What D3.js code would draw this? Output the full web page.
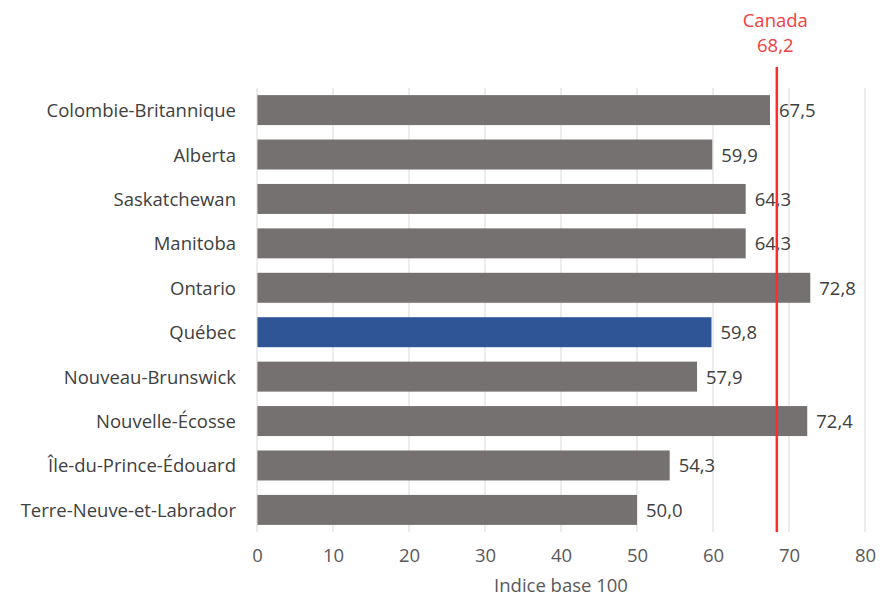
<!DOCTYPE html>
<html>
<head>
<meta charset="utf-8">
<script src="https://cdn.jsdelivr.net/npm/d3@7"></script>
<style>
  body { margin: 0; background: #fff; }
  svg text { font-family: "Open Sans", "Noto Sans", sans-serif; }
</style>
</head>
<body>
<div id="chart"></div>
<script>
const provinces = ["Colombie-Britannique", "Alberta", "Saskatchewan", "Manitoba", "Ontario",
  "Québec", "Nouveau-Brunswick", "Nouvelle-Écosse", "Île-du-Prince-Édouard", "Terre-Neuve-et-Labrador"];
const values = [67.5, 59.9, 64.3, 64.3, 72.8, 59.8, 57.9, 72.4, 54.3, 50.0];
const xTicks = [0, 10, 20, 30, 40, 50, 60, 70, 80];
const canadaLabel = "Canada";
const canadaValue = 68.2;
const highlight = "Québec";
const axisTitle = "Indice base 100";

const width = 890, height = 602;
const margin = {top: 88, right: 25, bottom: 70, left: 257};
const fs = 18.5;
const fmt = v => d3.format(".1f")(v).replace(".", ",");

const svg = d3.select("#chart").append("svg")
  .attr("width", width).attr("height", height);

const x = d3.scaleLinear().domain([0, 80]).range([margin.left, width - margin.right]);
const y = d3.scaleBand().domain(provinces)
  .range([margin.top, height - margin.bottom]).paddingInner(0.325).paddingOuter(0.16);

// grid lines
svg.append("g").selectAll("line")
  .data(xTicks.filter(d => d > 0))
  .enter().append("line")
  .attr("x1", d => x(d)).attr("x2", d => x(d))
  .attr("y1", margin.top).attr("y2", height - margin.bottom)
  .attr("stroke", "#d9d9d9").attr("stroke-width", 1);

// bars
svg.append("g").selectAll("rect")
  .data(provinces)
  .enter().append("rect")
  .attr("x", x(0))
  .attr("y", d => y(d))
  .attr("width", (d, i) => x(values[i]) - x(0))
  .attr("height", y.bandwidth())
  .attr("fill", d => d === highlight ? "#2f5597" : "#767171");

// value labels
svg.append("g").selectAll("text")
  .data(provinces)
  .enter().append("text")
  .attr("x", (d, i) => x(values[i]) + 9)
  .attr("y", d => y(d) + y.bandwidth() / 2 + 7)
  .attr("font-size", fs)
  .attr("fill", "#404040")
  .text((d, i) => fmt(values[i]));

// category axis
svg.append("line")
  .attr("x1", x(0)).attr("x2", x(0))
  .attr("y1", margin.top).attr("y2", height - margin.bottom)
  .attr("stroke", "#d9d9d9");

svg.append("g").selectAll("text")
  .data(provinces)
  .enter().append("text")
  .attr("x", x(0) - 21)
  .attr("y", d => y(d) + y.bandwidth() / 2 + 7)
  .attr("text-anchor", "end")
  .attr("font-size", fs)
  .attr("fill", "#404040")
  .text(d => d);

// x axis
const xAxis = svg.append("g")
  .attr("transform", `translate(0,${height - margin.bottom})`)
  .call(d3.axisBottom(x).tickValues(xTicks).tickSize(0).tickPadding(17));
xAxis.select(".domain").remove();
xAxis.selectAll("text")
  .attr("font-size", fs).attr("fill", "#595959")
  .style("font-family", "'Open Sans', 'Noto Sans', sans-serif");

svg.append("text")
  .attr("x", x(40)).attr("y", height - 10)
  .attr("text-anchor", "middle")
  .attr("font-size", fs).attr("fill", "#595959")
  .text(axisTitle);

// Canada reference
svg.append("line")
  .attr("x1", x(canadaValue) + 1.5).attr("x2", x(canadaValue) + 1.5)
  .attr("y1", 67).attr("y2", height - margin.bottom)
  .attr("stroke", "#ff2a2a").attr("stroke-width", 2.5);

svg.append("text")
  .attr("x", x(canadaValue)).attr("y", 27)
  .attr("text-anchor", "middle")
  .attr("font-size", fs).attr("fill", "#f04040")
  .text(canadaLabel);
svg.append("text")
  .attr("x", x(canadaValue)).attr("y", 52)
  .attr("text-anchor", "middle")
  .attr("font-size", fs).attr("fill", "#f04040")
  .text(fmt(canadaValue));
</script>
</body>
</html>
